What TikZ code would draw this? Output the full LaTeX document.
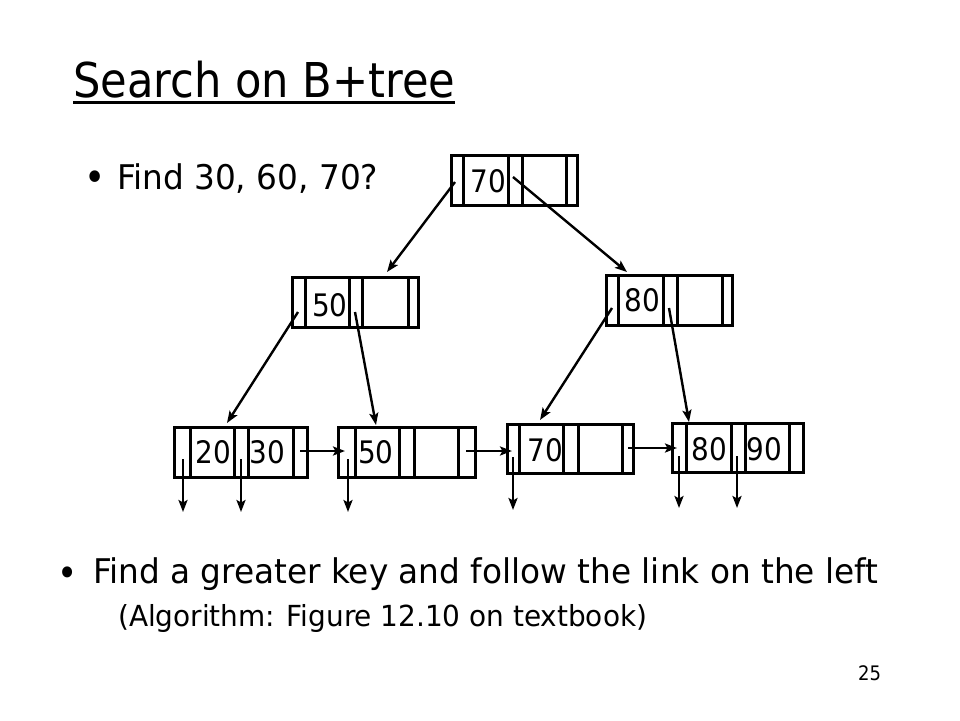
\documentclass[tikz,border=0pt]{standalone}
\usepackage{fontspec}
\setmainfont{DejaVu Sans Condensed}
\newfontfamily\widefont[FakeStretch=1.07]{DejaVu Sans Condensed}
\usetikzlibrary{arrows.meta}
\tikzset{
  bbox/.style={draw, line width=3pt, inner sep=0pt, outer sep=0pt, anchor=north west},
  divl/.style={line width=3pt},
  keytxt/.style={font=\fontsize{31}{31}\selectfont, inner sep=0pt},
  ptr/.style={line width=2.4pt, -{Stealth[length=12pt,width=9pt,inset=2.5pt]}},
  txt/.style={inner sep=0pt, anchor=base west},
}
\newcommand\btbox[9]{% name x0 y0 x1 y1 d1 d2 d3 d4
  \node[bbox, minimum width={#4-#2}, minimum height={#5-#3}] (#1) at (#2,#3) {};
  \foreach \d in {#6,#7,#8,#9} \draw[divl] (\d,#3) -- (\d,#5);
}
\begin{document}
\begin{tikzpicture}[x=1pt,y=-1pt]
\useasboundingbox[fill=white] (0,0) rectangle (960,720);

% title
\node[txt, font=\fontsize{48}{48}\selectfont] (title) at (73,97) {Search on B+tree};
\draw[line width=3pt] ([yshift=-5pt]title.base west) -- ([yshift=-5pt]title.base east);

% bullet 1
\node[inner sep=0pt, anchor=base, font=\fontsize{40}{40}\selectfont] (b1) at (95,191) {•};
\node[txt, font=\widefont\fontsize{34}{34}\selectfont] (q1) at (117,189) {Find 30, 60, 70?};

% tree nodes
\btbox{root}{451}{155}{577}{205}{463}{508}{522}{566}
\node[keytxt] (root-k1) at (488.5,181.5) {70};
\coordinate (root-p0) at (455,182);
\coordinate (root-p1) at (513,177);

\btbox{nA}{292}{277}{418}{327}{305}{349}{362}{408}
\node[keytxt] (nA-k1) at (330,305) {50};
\coordinate (nA-p0) at (298,312);
\coordinate (nA-p1) at (355,312);
\coordinate (nA-in) at (387,272);

\btbox{nB}{606}{275}{732}{325}{618}{663}{677}{722}
\node[keytxt] (nB-k1) at (642.5,300) {80};
\coordinate (nB-p0) at (612,308);
\coordinate (nB-p1) at (669,308);
\coordinate (nB-in) at (627,272);

\btbox{l1}{174}{427}{307}{477}{190}{234}{248}{293}
\node[keytxt] (l1-k1) at (213.5,452.5) {20};
\node[keytxt] (l1-k2) at (267.5,452.5) {30};
\coordinate (l1-p0) at (183,459);
\coordinate (l1-p1) at (241,459);
\coordinate (l1-nx) at (300,451);
\coordinate (l1-in) at (227,423);
\coordinate (l1-d0) at (183,512);
\coordinate (l1-d1) at (241,512);

\btbox{l2}{338}{427}{475}{477}{355}{399}{414}{458}
\node[keytxt] (l2-k1) at (376,452.5) {50};
\coordinate (l2-p0) at (348,459);
\coordinate (l2-nx) at (466,451);
\coordinate (l2-in) at (376,425);
\coordinate (l2-lk) at (345,451);
\coordinate (l2-d0) at (348,512);

\btbox{l3}{507}{424}{633}{473}{519}{563}{578}{622}
\node[keytxt] (l3-k1) at (545,450) {70};
\coordinate (l3-p0) at (513,457);
\coordinate (l3-nx) at (628,448);
\coordinate (l3-in) at (540,420);
\coordinate (l3-lk) at (512,451);
\coordinate (l3-d0) at (513,510);

\btbox{l4}{672}{423}{803}{472}{686}{731}{745}{789}
\node[keytxt] (l4-k1) at (709,449) {80};
\node[keytxt] (l4-k2) at (764,449) {90};
\coordinate (l4-p0) at (679,456);
\coordinate (l4-p1) at (737,456);
\coordinate (l4-in) at (689,422);
\coordinate (l4-lk) at (677,448);
\coordinate (l4-d0) at (679,508);
\coordinate (l4-d1) at (737,508);

% connectors
\draw[ptr] (root-p0) -- (nA-in);
\draw[ptr] (root-p1) -- (nB-in);
\draw[ptr] (nA-p0) -- (l1-in);
\draw[ptr] (nA-p1) -- (l2-in);
\draw[ptr] (nB-p0) -- (l3-in);
\draw[ptr] (nB-p1) -- (l4-in);
\draw[ptr] (l1-nx) -- (l2-lk);
\draw[ptr] (l2-nx) -- (l3-lk);
\draw[ptr] (l3-nx) -- (l4-lk);
\draw[ptr] (l1-p0) -- (l1-d0);
\draw[ptr] (l1-p1) -- (l1-d1);
\draw[ptr] (l2-p0) -- (l2-d0);
\draw[ptr] (l3-p0) -- (l3-d0);
\draw[ptr] (l4-p0) -- (l4-d0);
\draw[ptr] (l4-p1) -- (l4-d1);

% bottom text
\node[inner sep=0pt, anchor=base, font=\fontsize{38}{38}\selectfont] (b2) at (67.5,586) {•};
\node[txt, font=\widefont\fontsize{34}{34}\selectfont] (q2) at (93,583) {Find a greater key and follow the link on the left};
\node[txt, font=\widefont\fontsize{29}{29}\selectfont] (q3) at (118,626) {(Algorithm: Figure 12.10 on textbook)};
\node[txt, font=\fontsize{20}{20}\selectfont] (pg) at (858,680) {25};
\end{tikzpicture}
\end{document}
